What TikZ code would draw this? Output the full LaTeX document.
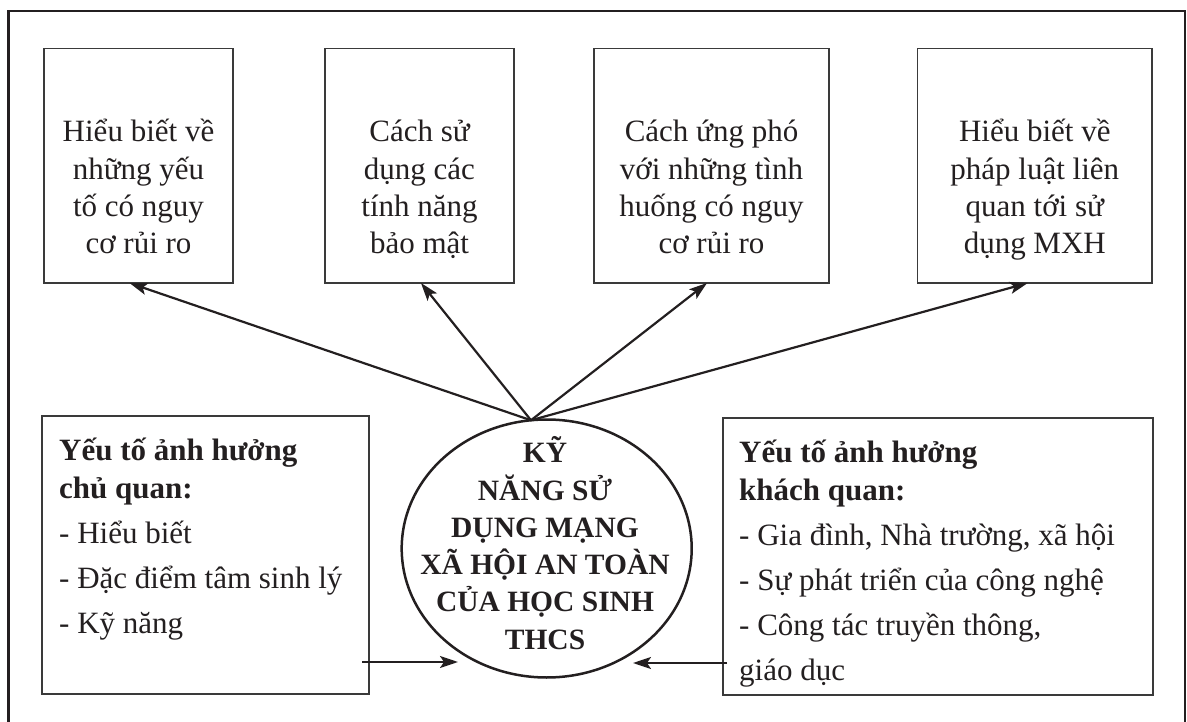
\documentclass[tikz,border=0pt]{standalone}
\usepackage{fontspec}
\setmainfont{Liberation Serif}
\usetikzlibrary{arrows.meta,shapes.geometric}
\definecolor{ink}{HTML}{231F20}
\definecolor{boxc}{HTML}{3A3A3A}
\newcommand{\topstrut}{\rule{0pt}{74pt}}
\newcommand{\botstrut}{\rule[-10pt]{0pt}{10pt}}
\newcommand{\sidestrut}{\rule{0pt}{32pt}}
\newcommand{\ellstrut}{\rule{0pt}{30pt}}
\begin{document}
\begin{tikzpicture}[x=1pt,y=-1pt,
  topbox/.style={draw=boxc, line width=1.2pt, inner sep=0pt, outer sep=0pt,
    minimum height=234.5pt, align=center, text=ink,
    font=\fontsize{31}{37.3}\selectfont},
  sidebox/.style={draw=boxc, line width=1.2pt, inner sep=0pt, outer sep=0pt},
  sidetext/.style={anchor=north west, align=left, inner sep=0pt, text=ink,
    font=\fontsize{31}{38}\selectfont},
  conn/.style={draw=ink, line width=2.2pt,
    -{Stealth[length=18pt,width=12pt,inset=4pt]}},
]
\useasboundingbox (0,0) rectangle (1187,722);
\draw[ink, line width=2.6pt] (8.5,722) -- (8.5,11) -- (1185,11) -- (1185,722);

% top boxes
\node[topbox, minimum width=189pt] (b1) at (138.5,165.75)
  {\topstrut Hiểu biết về\\những yếu\\tố có nguy\\cơ rủi ro\botstrut};
\node[topbox, minimum width=189pt] (b2) at (419.5,165.75)
  {\topstrut Cách sử\\dụng các\\tính năng\\bảo mật\botstrut};
\node[topbox, minimum width=235pt] (b3) at (711.5,165.75)
  {\topstrut Cách ứng phó\\với những tình\\huống có nguy\\cơ rủi ro\botstrut};
\node[topbox, minimum width=234.5pt] (b4) at (1034.8,165.75)
  {\topstrut Hiểu biết về\\pháp luật liên\\quan tới sử\\dụng MXH\botstrut};

% side boxes
\node[sidebox, minimum width=327pt, minimum height=278pt] (lbox) at (205.5,555) {};
\node[sidebox, minimum width=430pt, minimum height=277pt] (rbox) at (938,556.5) {};
\node[sidetext] (ltext) at (59,428)
  {\sidestrut\textbf{Yếu tố ảnh hưởng}\\\textbf{chủ quan:}\\[7pt]- Hiểu biết\\[7pt]- Đặc điểm tâm sinh lý\\[7pt]- Kỹ năng};
\node[sidetext] (rtext) at (739,430)
  {\sidestrut\textbf{Yếu tố ảnh hưởng}\\\textbf{khách quan:}\\[7pt]- Gia đình, Nhà trường, xã hội\\[7pt]- Sự phát triển của công nghệ\\[7pt]- Công tác truyền thông,\\[7pt]giáo dục};

% centre ellipse
\node[ellipse, draw=ink, line width=2.5pt, inner sep=0pt, outer sep=0pt,
  minimum width=290pt, minimum height=258pt] (ell) at (546.7,548.5) {};
\node[anchor=north, align=center, inner sep=0pt, text=ink,
  font=\fontsize{29.5}{37.3}\selectfont\bfseries] (etext) at (545,432.5)
  {\ellstrut KỸ\\NĂNG SỬ\\DỤNG MẠNG\\XÃ HỘI AN TOÀN\\CỦA HỌC SINH\\THCS};

% connectors
\coordinate (apex) at (ell.97);
\draw[conn] (apex) -- ([xshift=-9pt]b1.south);
\draw[conn] (apex) -- ([xshift=1.5pt]b2.south);
\draw[conn] (apex) -- ([xshift=-4.5pt]b3.south);
\draw[conn] (apex) -- ([xshift=-7pt]b4.south);

\coordinate (lstart) at (362,662);
\coordinate (lend) at (458,662);
\coordinate (rstart) at (727,663);
\coordinate (rend) at (633,663);
\draw[conn] (lstart) -- (lend);
\draw[conn] (rstart) -- (rend);
\end{tikzpicture}
\end{document}
